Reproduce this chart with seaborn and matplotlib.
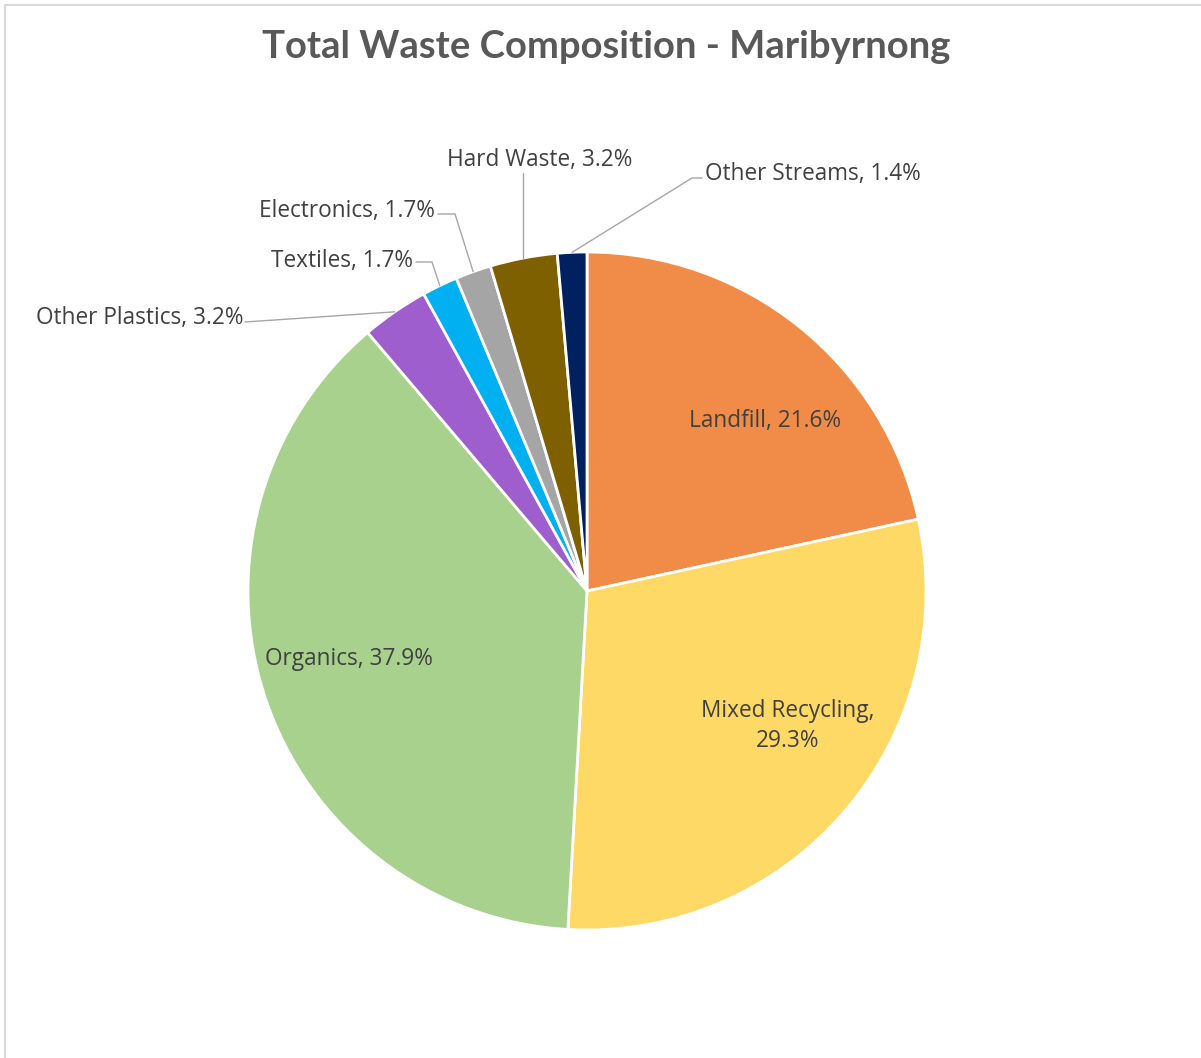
import numpy as np
import matplotlib
matplotlib.use('Agg')
import matplotlib.pyplot as plt
import seaborn as sns
from matplotlib.patches import Rectangle

sns.set_theme(style='white')
plt.rcParams['font.family'] = ['Open Sans', 'DejaVu Sans']

# data
categories = ['Landfill', 'Mixed Recycling', 'Organics', 'Other Plastics',
              'Textiles', 'Electronics', 'Hard Waste', 'Other Streams']
shares = [21.6, 29.3, 37.9, 3.2, 1.7, 1.7, 3.2, 1.4]
colors = ['#F08C48', '#FFD966', '#A9D18E', '#9E5ECE',
          '#00B0F0', '#A5A5A5', '#7F6000', '#002060']

W, H = 1201, 1058
cx, cy, R = 587, H - 591, 339

fig = plt.figure(figsize=(W / 100, H / 100), dpi=100)
ax = fig.add_axes([0, 0, 1, 1])
ax.set_xlim(0, W)
ax.set_ylim(0, H)
ax.set_aspect('equal')
ax.axis('off')

# chart border
ax.add_patch(Rectangle((5, -20), W + 20, H - 5 + 20, fill=False,
                       edgecolor='#D9D9D9', lw=1.5))

wedges, _ = ax.pie(shares, colors=colors, startangle=90, counterclock=False,
                   center=(cx, cy), radius=R,
                   wedgeprops=dict(edgecolor='white', linewidth=2))
ax.set_xlim(0, W)
ax.set_ylim(0, H)

ax.text(W / 2 + 6, H - 47, 'Total Waste Composition - Maribyrnong',
        ha='center', va='center', fontsize=27.5, fontweight='bold',
        color='#595959', family=['Lato', 'DejaVu Sans'])

txt = '#404040'
fs = 16.3

# labels inside the big slices (image pixel positions)
inside = {0: (765, 421, 'Landfill, 21.6%'),
          1: (788, 726, 'Mixed Recycling,\n29.3%'),
          2: (349, 659, 'Organics, 37.9%')}
for i, (x, y, s) in inside.items():
    ax.text(x, H - y, s, ha='center', va='center', fontsize=fs, color=txt,
            linespacing=1.35)

# outside labels with leader lines: text anchor, elbow point
outside = {3: (243, 318, 'right', (245, 322)),
           4: (413, 261, 'right', (432, 262)),
           5: (435, 211, 'right', (455, 214)),
           6: (540, 160, 'center', None),
           7: (705, 174, 'left', (692, 178))}
theta = np.cumsum([0] + shares)
for i, (x, y, ha, elbow) in outside.items():
    mid = np.deg2rad(90 - 3.6 * (theta[i] + theta[i + 1]) / 2)
    ex, ey = cx + R * np.cos(mid), cy + R * np.sin(mid)
    label = f'{categories[i]}, {shares[i]}%'
    ax.text(x, H - y, label, ha=ha, va='center', fontsize=fs, color=txt)
    if elbow is None:
        xs, ys = [ex, ex], [ey, H - 173]
    elif ha == 'left':
        xs, ys = [ex, elbow[0], x - 3], [ey, H - elbow[1], H - elbow[1]]
    elif i == 3:
        xs, ys = [ex, elbow[0]], [ey, H - elbow[1]]
    else:
        xs, ys = [ex, elbow[0], x + 3], [ey, H - elbow[1], H - elbow[1]]
    ax.plot(xs, ys, color='#A6A6A6', lw=1)

fig.savefig('out.png', dpi=100)
